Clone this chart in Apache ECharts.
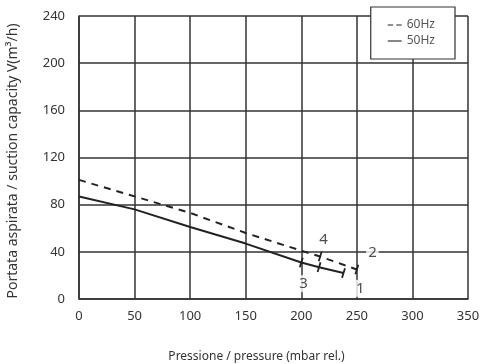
<!DOCTYPE html>
<html><head><meta charset="utf-8">
<script src="https://cdn.jsdelivr.net/npm/echarts@6/dist/echarts.min.js"></script>
<style>html,body{margin:0;padding:0;background:#fff}#c{width:487px;height:364px}</style>
</head><body><div id="c"></div>
<script>
var xTicks = [0, 50, 100, 150, 200, 250, 300, 350];
var yTicks = [0, 40, 80, 120, 160, 200, 240];
var hz60 = [[0, 101], [50, 87], [100, 73], [150, 56], [200, 41], [217, 36], [250, 25]];
var hz60Marks = [217, 250];
var hz50 = [[0, 87], [50, 76], [100, 61], [150, 47], [200, 31], [216, 27], [238, 22]];
var hz50Marks = [200, 216, 238];
var pointLabels = [['1', 253, 9], ['2', 264, 39], ['3', 202, 13], ['4', 220, 50]];

var FONT = 'Noto Sans';
var INK = '#333';
function withMarks(data, marks, rot) {
  return data.map(function (p) {
    var m = marks.indexOf(p[0]) >= 0;
    return { value: p, symbol: m ? 'rect' : 'none', symbolSize: [1.8, 10], symbolRotate: rot };
  });
}
var chart = echarts.init(document.getElementById('c'));
chart.setOption({
  animation: false,
  textStyle: { fontFamily: FONT },
  grid: { left: 79, right: 19, top: 16, bottom: 65, containLabel: false, outerBoundsMode: 'none' },
  legend: {
    orient: 'vertical', right: 32, top: 7, padding: [12, 20, 12, 17],
    backgroundColor: '#fff', borderColor: INK, borderWidth: 1.2,
    itemWidth: 14, itemHeight: 8, itemGap: 4,
    textStyle: { fontSize: 12, color: '#555', fontFamily: FONT },
    data: [{ name: '60Hz', icon: 'path://M0,4L5,4L5,5L0,5ZM8,4L13,4L13,5L8,5Z' }, { name: '50Hz', icon: 'path://M0,4L13,4L13,5L0,5Z' }]
  },
  xAxis: {
    type: 'value', min: 0, max: 350, interval: 50,
    name: 'Pressione / pressure (mbar rel.)', nameLocation: 'middle', nameGap: 52,
    nameTextStyle: { fontSize: 12, color: INK, padding: [0, 34, 0, 0] },
    axisLine: { show: true, lineStyle: { color: INK, width: 1.5 } },
    axisTick: { show: false },
    axisLabel: { fontSize: 13, color: INK, margin: 11, formatter: function (v) { return xTicks.indexOf(v) >= 0 ? String(v) : ''; } },
    splitLine: { show: true, lineStyle: { color: INK, width: 1.5 } }
  },
  yAxis: {
    type: 'value', min: 0, max: 240, interval: 40,
    name: 'Portata aspirata / suction capacity V(m\u00b3/h)', nameLocation: 'middle', nameGap: 59,
    nameTextStyle: { fontSize: 14, color: INK, padding: [0, 7, 0, 0] },
    axisLine: { show: true, lineStyle: { color: INK, width: 1.5 } },
    axisTick: { show: false },
    axisLabel: { fontSize: 13, color: INK, margin: 14, formatter: function (v) { return yTicks.indexOf(v) >= 0 ? String(v) : ''; } },
    splitLine: { show: true, lineStyle: { color: INK, width: 1.5 } }
  },
  series: [
    {
      name: '60Hz', type: 'line', showSymbol: true, showAllSymbol: true,
      data: withMarks(hz60, hz60Marks, -17),
      itemStyle: { color: '#222' },
      lineStyle: { color: '#222', width: 2, type: [7, 6] }, z: 5
    },
    {
      name: '50Hz', type: 'line', showSymbol: true, showAllSymbol: true,
      data: withMarks(hz50, hz50Marks, -17),
      itemStyle: { color: '#222' },
      lineStyle: { color: '#222', width: 2 }, z: 5
    },
    {
      type: 'scatter', symbolSize: 0, z: 6, silent: true,
      data: pointLabels.map(function (l) { return { name: l[0], value: [l[1], l[2]] }; }),
      label: { show: true, position: 'inside', formatter: '{b}', fontSize: 15, color: '#222', backgroundColor: '#fff', padding: [1, 2] }
    }
  ]
});
</script></body></html>
